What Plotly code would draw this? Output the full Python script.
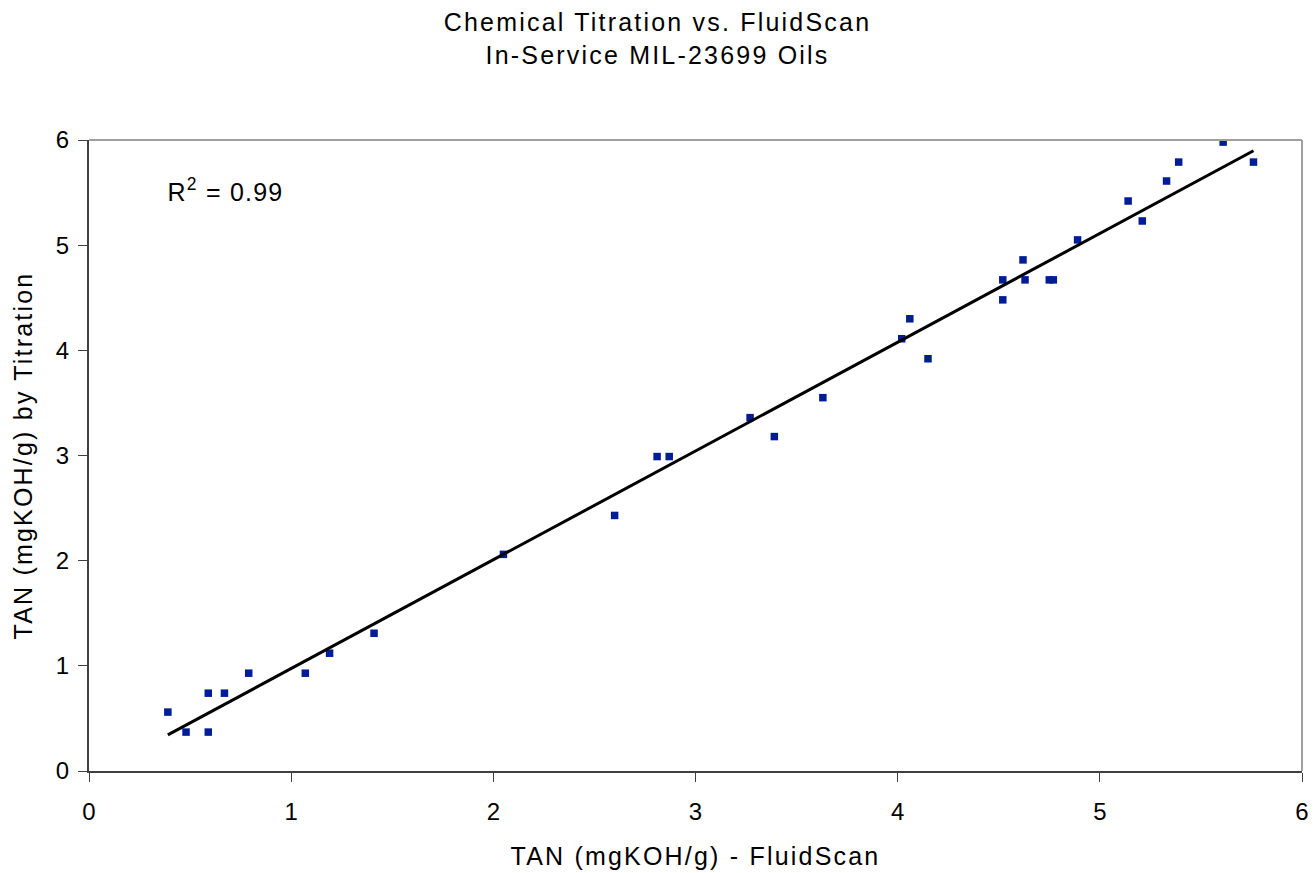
import numpy as np
import plotly.graph_objects as go

# TAN measured by FluidScan (x) and by chemical titration (y)
fluidscan = [0.39, 0.48, 0.59, 0.59, 0.67, 0.79, 1.07, 1.19, 1.41, 2.05,
             2.60, 2.81, 2.87, 3.27, 3.39, 3.63, 4.02, 4.06, 4.15, 4.52,
             4.52, 4.62, 4.63, 4.75, 4.77, 4.89, 5.14, 5.21, 5.33, 5.39,
             5.61, 5.76]
titration = [0.56, 0.37, 0.74, 0.37, 0.74, 0.93, 0.93, 1.12, 1.31, 2.06,
             2.43, 2.99, 2.99, 3.36, 3.18, 3.55, 4.11, 4.30, 3.92, 4.67,
             4.48, 4.86, 4.67, 4.67, 4.67, 5.05, 5.42, 5.23, 5.61, 5.79,
             5.98, 5.79]

x_ticks = [0, 1, 2, 3, 4, 5, 6]
y_ticks = [0, 1, 2, 3, 4, 5, 6]

xa = np.array(fluidscan)
ya = np.array(titration)
slope, intercept = np.polyfit(xa, ya, 1)
fit_x = np.array([xa.min(), xa.max()])
fit_y = slope * fit_x + intercept
r2 = 1 - np.sum((ya - (slope * xa + intercept)) ** 2) / np.sum((ya - ya.mean()) ** 2)

FONT = "Liberation Sans, Arial, sans-serif"

fig = go.Figure()
fig.add_trace(go.Scatter(
    x=fluidscan, y=titration, mode="markers",
    marker=dict(symbol="square", size=7.5, color="#001c96",
                line=dict(width=0)),
    showlegend=False, hoverinfo="x+y"))
fig.add_trace(go.Scatter(
    x=fit_x, y=fit_y, mode="lines",
    line=dict(color="black", width=3),
    showlegend=False, hoverinfo="skip"))

fig.update_layout(
    width=1315, height=873,
    margin=dict(l=89, r=13, t=140, b=102),
    paper_bgcolor="white", plot_bgcolor="white",
    font=dict(family=FONT, color="black"),
    title=dict(text="Chemical Titration vs. FluidScan<br>In-Service MIL-23699 Oils",
               x=0.5, xanchor="center", y=0.964, yanchor="top",
               font=dict(size=25, family=FONT, color="black")),
    xaxis=dict(range=[0, 6], tickvals=x_ticks, ticks="outside", ticklen=9,
               tickcolor="#404040", showline=True, linecolor="#404040",
               linewidth=2, showgrid=False, zeroline=False, automargin=False,
               ticklabelstandoff=9,
               tickfont=dict(size=24, family=FONT),
               title=dict(text="TAN (mgKOH/g) - FluidScan",
                          font=dict(size=25, family=FONT), standoff=24)),
    yaxis=dict(range=[0, 6], tickvals=y_ticks, ticks="outside", ticklen=9,
               tickcolor="#404040", showline=True, linecolor="#404040",
               linewidth=2, showgrid=False, zeroline=False, automargin=False,
               ticklabelstandoff=4,
               tickfont=dict(size=24, family=FONT),
               title=dict(text="TAN (mgKOH/g) by Titration",
                          font=dict(size=25, family=FONT), standoff=16)),
    shapes=[
        dict(type="line", xref="paper", yref="paper", x0=0, x1=1, y0=1, y1=1,
             line=dict(color="#a0a0a0", width=2)),
        dict(type="line", xref="paper", yref="paper", x0=1, x1=1, y0=0, y1=1,
             line=dict(color="#a0a0a0", width=2)),
    ],
    annotations=[dict(
        text="R<sup>2</sup> = %.2f" % r2, xref="paper", yref="paper",
        x=0.068, y=0.92, xanchor="left", yanchor="middle", showarrow=False,
        font=dict(size=25, family=FONT, color="black"))],
)

post_js = """
document.body.style.margin = '0';
document.querySelectorAll('.gtitle, .xtitle, .ytitle').forEach(function(t) {
  t.style.letterSpacing = '2.2px';
});
document.querySelectorAll('.annotation-text').forEach(function(t) {
  t.style.letterSpacing = '1.2px';
});
"""

fig.write_html("out.html", post_script=post_js,
               config={"displayModeBar": False})
